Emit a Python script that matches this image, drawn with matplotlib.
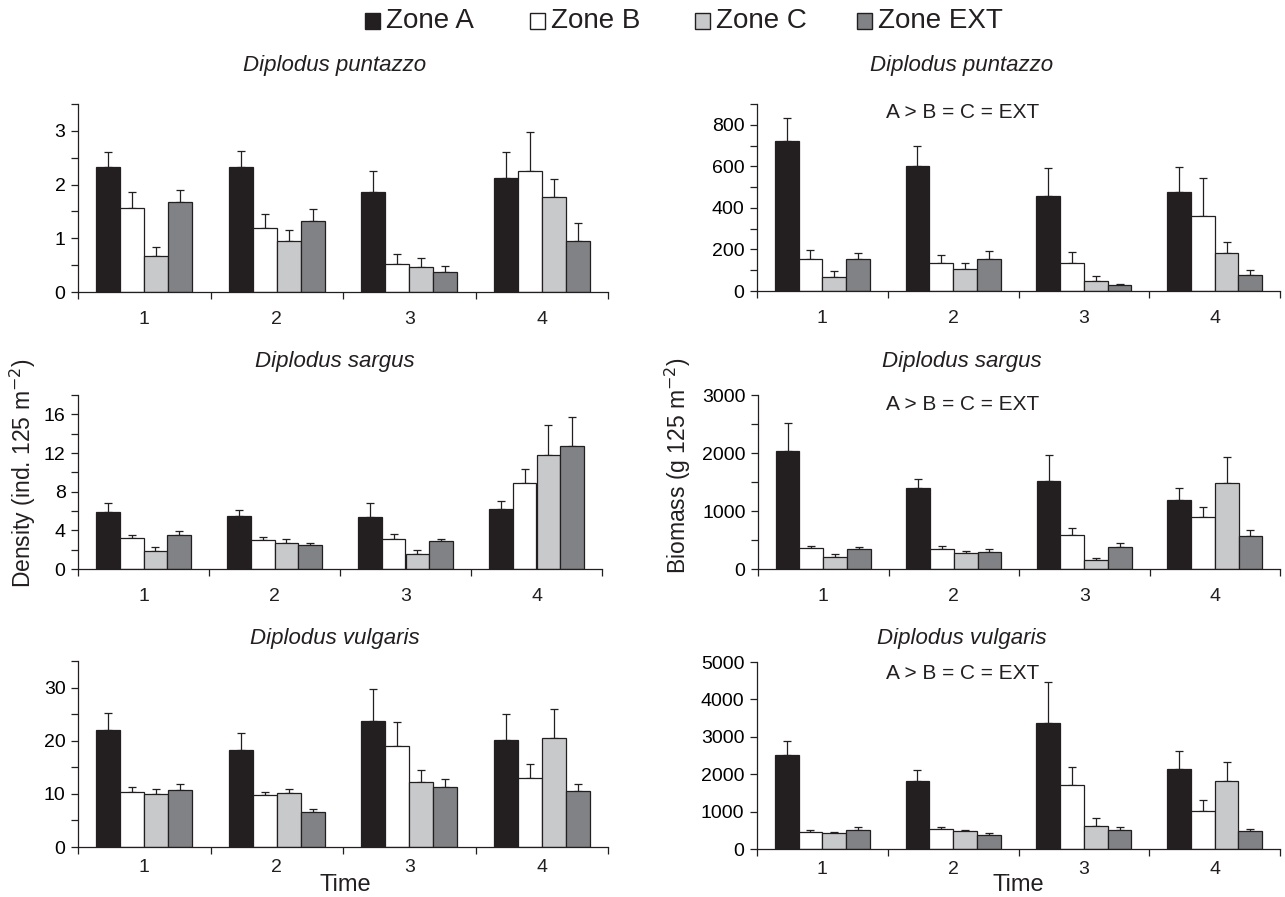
import numpy as np
import matplotlib
matplotlib.use("Agg")
import matplotlib.pyplot as plt
from matplotlib.patches import Rectangle
from matplotlib.ticker import FixedLocator, MultipleLocator

plt.rcParams['font.family'] = ['Liberation Sans', 'DejaVu Sans']

times = [1, 2, 3, 4]
zones = ["Zone A", "Zone B", "Zone C", "Zone EXT"]
zone_colors = ["#231f20", "#ffffff", "#c8c9cb", "#808285"]

# density, D. puntazzo (rows = zones A, B, C, EXT)
dens_puntazzo = [[2.33, 2.33, 1.86, 2.13], [1.56, 1.19, 0.53, 2.26],
                 [0.67, 0.95, 0.47, 1.76], [1.68, 1.33, 0.38, 0.95]]
dens_puntazzo_se = [[0.28, 0.30, 0.40, 0.48], [0.30, 0.27, 0.18, 0.72],
                    [0.17, 0.20, 0.16, 0.34], [0.21, 0.21, 0.11, 0.33]]

# biomass, D. puntazzo
bio_puntazzo = [[724, 604, 457, 477], [152, 134, 134, 360],
                [66, 107, 48, 181], [152, 152, 27, 79]]
bio_puntazzo_se = [[107, 96, 135, 121], [45, 41, 52, 186],
                   [28, 27, 25, 57], [29, 39, 5, 23]]

# density, D. sargus
dens_sargus = [[5.88, 5.47, 5.33, 6.23], [3.17, 2.96, 3.06, 8.91],
               [1.82, 2.72, 1.58, 11.84], [3.51, 2.51, 2.86, 12.73]]
dens_sargus_se = [[0.90, 0.62, 1.45, 0.82], [0.34, 0.34, 0.59, 1.45],
                  [0.45, 0.34, 0.35, 3.03], [0.38, 0.21, 0.20, 3.00]]

# biomass, D. sargus
bio_sargus = [[2031, 1394, 1509, 1188], [361, 338, 585, 901],
              [201, 270, 149, 1486], [344, 287, 379, 562]]
bio_sargus_se = [[482, 161, 459, 212], [29, 52, 126, 166],
                 [51, 34, 46, 453], [35, 51, 74, 115]]

# density, D. vulgaris
dens_vulgaris = [[22.1, 18.2, 23.7, 20.2], [10.4, 9.7, 19.0, 13.0],
                 [9.9, 10.1, 12.2, 20.5], [10.8, 6.5, 11.3, 10.5]]
dens_vulgaris_se = [[3.2, 3.2, 6.1, 4.9], [0.8, 0.7, 4.6, 2.7],
                    [1.1, 0.9, 2.3, 5.5], [1.1, 0.7, 1.5, 1.4]]

# biomass, D. vulgaris
bio_vulgaris = [[2504, 1818, 3378, 2148], [463, 526, 1711, 1025],
                [428, 472, 624, 1809], [499, 374, 499, 472]]
bio_vulgaris_se = [[384, 285, 1078, 463], [36, 53, 473, 276],
                   [27, 45, 214, 517], [80, 45, 80, 72]]

INK = "#231f20"
W, H = 1285, 897
fig = plt.figure(figsize=(W / 100, H / 100), dpi=100)


def px_axes(x0, x1, y0, y1):
    # pixel box (left, right, top, bottom) -> figure axes
    return fig.add_axes([x0 / W, 1 - y1 / H, (x1 - x0) / W, (y1 - y0) / H])


def bar_panel(ax, vals, ses, ymax, ystep, yminor, label_pad):
    width = 0.182
    x = np.array(times, dtype=float)
    for i in range(4):
        xs = x + (i - 1.5) * width
        ax.bar(xs, vals[i], width=width, color=zone_colors[i],
               edgecolor=INK, linewidth=0.9, zorder=2)
        ax.errorbar(xs, vals[i], yerr=[np.zeros(4), ses[i]], fmt='none',
                    ecolor=INK, elinewidth=0.9, capsize=3, capthick=0.9,
                    zorder=1)
    ax.set_xlim(0.5, 4.5)
    ax.set_ylim(0, ymax)
    for s in ['top', 'right']:
        ax.spines[s].set_visible(False)
    for s in ['left', 'bottom']:
        ax.spines[s].set_linewidth(0.9)
        ax.spines[s].set_color(INK)
    ax.set_xticks(times)
    ax.set_xticklabels([str(t) for t in times])
    ax.xaxis.set_minor_locator(FixedLocator([0.5, 1.5, 2.5, 3.5, 4.5]))
    ax.tick_params(axis='x', which='major', length=0, pad=label_pad,
                   labelsize=14, colors=INK)
    ax.tick_params(axis='x', which='minor', length=5, width=0.9,
                   direction='out', color=INK)
    ax.yaxis.set_major_locator(MultipleLocator(ystep))
    if yminor:
        ax.yaxis.set_minor_locator(MultipleLocator(yminor))
    ax.tick_params(axis='y', which='both', length=5, width=0.9,
                   direction='out', color=INK, labelsize=14, pad=4)


ax1 = px_axes(78, 608, 104, 292)
bar_panel(ax1, dens_puntazzo, dens_puntazzo_se, 3.5, 1, 0.5, 13.5)
ax2 = px_axes(757, 1280, 104, 291)
bar_panel(ax2, bio_puntazzo, bio_puntazzo_se, 900, 200, 100, 13.5)
ax3 = px_axes(78, 602, 395, 569)
bar_panel(ax3, dens_sargus, dens_sargus_se, 18, 4, 2, 13.5)
ax4 = px_axes(758, 1280, 395, 569)
bar_panel(ax4, bio_sargus, bio_sargus_se, 3000, 1000, 500, 13.5)
ax5 = px_axes(78, 608, 661, 847)
bar_panel(ax5, dens_vulgaris, dens_vulgaris_se, 35, 10, 5, 8.5)
ax6 = px_axes(757, 1280, 662, 849)
bar_panel(ax6, bio_vulgaris, bio_vulgaris_se, 5000, 1000, None, 8.5)

# species titles
for (x, y, name) in [(335, 66, "Diplodus puntazzo"), (962, 66, "Diplodus puntazzo"),
                     (335, 362, "Diplodus sargus"), (962, 362, "Diplodus sargus"),
                     (335, 638, "Diplodus vulgaris"), (962, 638, "Diplodus vulgaris")]:
    fig.text(x / W, 1 - y / H, name, ha='center', va='center',
             fontsize=16, style='italic', color=INK)

# test results on biomass panels
for y in [112, 404, 673]:
    fig.text(963 / W, 1 - y / H, "A > B = C = EXT", ha='center', va='center',
             fontsize=15, color=INK)

fig.text(23 / W, 1 - 473 / H, "Density (ind. 125 m$^{-2}$)", rotation=90,
         ha='center', va='center', fontsize=16.5, color=INK)
fig.text(678 / W, 1 - 466 / H, "Biomass (g 125 m$^{-2}$)", rotation=90,
         ha='center', va='center', fontsize=16.5, color=INK)
fig.text(345 / W, 1 - 885 / H, "Time", ha='center', va='center',
         fontsize=17, color=INK)
fig.text(1018 / W, 1 - 885 / H, "Time", ha='center', va='center',
         fontsize=17, color=INK)

# legend drawn by hand so the entries sit where the original has them
for x0, label, c in zip([365, 530, 695, 857], zones, zone_colors):
    fig.add_artist(Rectangle((x0 / W, 1 - 29 / H), 15 / W, 16 / H,
                             transform=fig.transFigure, facecolor=c,
                             edgecolor=INK, linewidth=1.0))
    fig.text((x0 + 21) / W, 1 - 21 / H, label, ha='left', va='center',
             fontsize=20, color=INK)

plt.savefig("out.png", dpi=100)
